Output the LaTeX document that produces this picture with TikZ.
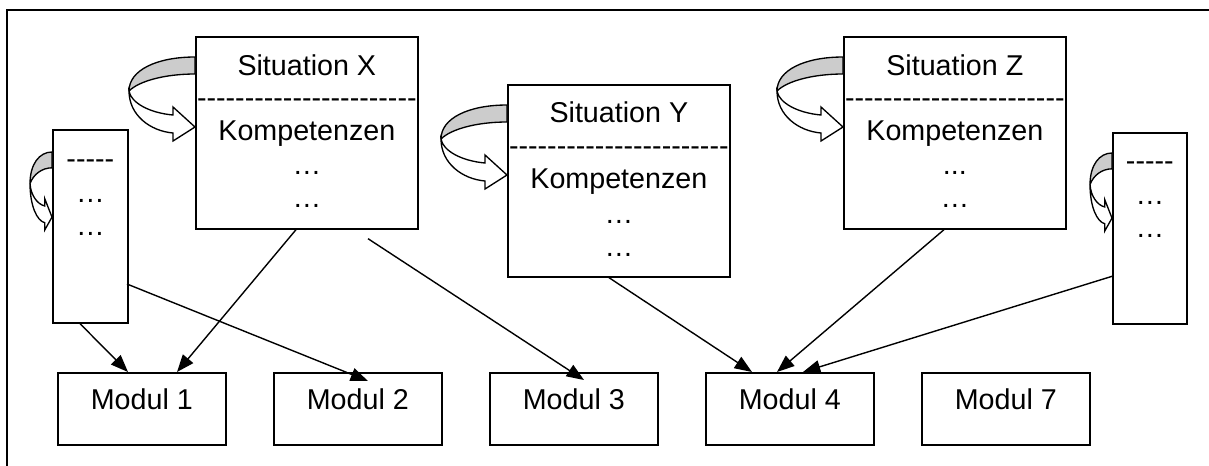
\documentclass[tikz,border=0pt]{standalone}
\usepackage{fontspec}
\setmainfont{Liberation Sans}
\usetikzlibrary{calc,arrows.meta}
\newcommand\fsz{\fontsize{21.5}{25}\selectfont}
\newcommand\hy{\mbox{-}}
\newcommand\hyline{\hy\hy\hy\hy\hy\hy\hy\hy\hy\hy\hy\hy\hy\hy\hy\hy\hy\hy\hy\hy\hy\hy\hy}
\newcommand\hyfive{\hy\hy\hy\hy\hy}
\tikzset{
  box/.style={draw, line width=1.25pt, inner sep=0pt, anchor=north west, fill=white},
  sitbox/.style={box, minimum width=166.5pt, minimum height=144pt},
  modbox/.style={box, font=\fsz, minimum width=126pt, inner ysep=0pt, text height=27.75pt, text depth=26.25pt},
  txt/.style={font=\fsz, anchor=base, inner sep=0pt},
  link/.style={line width=1.05pt, -{Triangle[length=13pt,width=10pt]}},
  frame/.style={line width=1.2pt},
  curv/.pic={
    \filldraw[line width=1pt, line join=round, fill=gray!40]
      (0,0) .. controls (-38,0) and (-66,13) .. (-66,34)
      .. controls (-56,24) and (-30,17) .. (0,17) -- cycle;
    \filldraw[line width=1pt, line join=miter, fill=white]
      (-66,34) .. controls (-66,58) and (-45,74) .. (-22,76)
      -- (-22,84) -- (0,70) -- (-22,50) -- (-22,58)
      .. controls (-45,56) and (-64,46) .. (-66,34) -- cycle;
  }
}
\begin{document}
\begin{tikzpicture}[x=0.75pt,y=-0.75pt]
\useasboundingbox (0,0) rectangle (1209,465);
\draw[frame] (7,466) -- (7,10) -- (1210,10);

% situation boxes
\node[sitbox] (X) at (195,36) {};
\node[sitbox] (Y) at (507,84) {};
\node[sitbox] (Z) at (843,36) {};
% small boxes
\node[box, minimum width=56.25pt, minimum height=144.75pt] (ls) at (52,129) {};
\node[box, minimum width=55.5pt, minimum height=143.25pt] (rs) at (1112,132) {};
% modules
\node[modbox] (m1) at (57,372) {Modul 1};
\node[modbox] (m2) at (273,372) {Modul 2};
\node[modbox] (m3) at (489,372) {Modul 3};
\node[modbox] (m4) at (705,372) {Modul 4};
\node[modbox] (m7) at (921,372) {Modul 7};

% texts in situation X
\node[txt] (x1) at ($(X.north)+(0,39)$) {Situation X};
\node[txt] (x2) at ($(X.north)+(0,71)$) {\hyline};
\node[txt] (x3) at ($(X.north)+(0,104)$) {Kompetenzen};
\node[txt] (x4) at ($(X.north)+(0,138)$) {…};
\node[txt] (x5) at ($(X.north)+(0,171)$) {…};
% texts in situation Y
\node[txt] (y1) at ($(Y.north)+(0,38)$) {Situation Y};
\node[txt] (y2) at ($(Y.north)+(0,71)$) {\hyline};
\node[txt] (y3) at ($(Y.north)+(0,104)$) {Kompetenzen};
\node[txt] (y4) at ($(Y.north)+(0,139)$) {…};
\node[txt] (y5) at ($(Y.north)+(0,172)$) {…};
% texts in situation Z
\node[txt] (z1) at ($(Z.north)+(0,39)$) {Situation Z};
\node[txt] (z2) at ($(Z.north)+(0,71)$) {\hyline};
\node[txt] (z3) at ($(Z.north)+(0,104)$) {Kompetenzen};
\node[txt] (z4) at ($(Z.north)+(0,138)$) {...};
\node[txt] (z5) at ($(Z.north)+(0,171)$) {…};
% texts in small boxes
\node[txt] (l1) at ($(ls.north)+(0,39)$) {\hyfive};
\node[txt] (l2) at ($(ls.north)+(0,73)$) {…};
\node[txt] (l3) at ($(ls.north)+(0,106)$) {…};
\node[txt] (r1) at ($(rs.north)+(0,38)$) {\hyfive};
\node[txt] (r2) at ($(rs.north)+(0,72)$) {…};
\node[txt] (r3) at ($(rs.north)+(0,105)$) {…};

% curved arrows
\pic at ($(X.north west)+(0,21)$) {curv};
\pic at ($(Y.north west)+(0,21)$) {curv};
\pic at ($(Z.north west)+(0,21)$) {curv};
\pic[xscale=0.333,yscale=0.93] at ($(ls.north west)+(0,23)$) {curv};
\pic[xscale=0.333,yscale=0.93] at ($(rs.north west)+(0,21)$) {curv};

% connectors
\draw[link] ($(ls.south west)+(28,0)$) -- ($(m1.north west)+(71,0)$);
\draw[link] ($(X.south west)+(101,0)$) -- ($(m1.north west)+(120,0)$);
\draw[link] ($(ls.north west)+(75,155)$) -- ($(m2.north west)+(95,9)$);
\draw[link] ($(X.south west)+(173,9)$) -- ($(m3.north west)+(95,8)$);
\draw[link] ($(Y.south west)+(102,0)$) -- ($(m4.north west)+(47,0)$);
\draw[link] ($(Z.south west)+(101,0)$) -- ($(m4.north west)+(72,0)$);
\draw[link] ($(rs.north west)+(1,144)$) -- ($(m4.north west)+(98,0)$);
\end{tikzpicture}
\end{document}
